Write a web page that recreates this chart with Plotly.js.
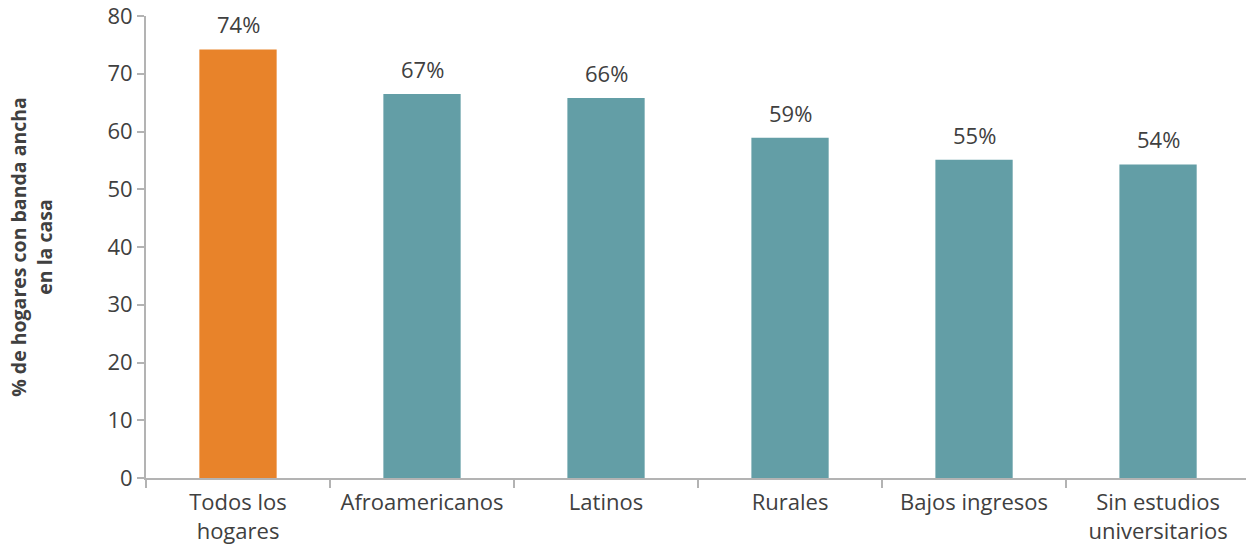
<!DOCTYPE html>
<html>
<head>
<meta charset="utf-8">
<script src="https://cdn.plot.ly/plotly-3.0.1.min.js"></script>
<style>html,body{margin:0;padding:0;background:#fff;}#chart{width:1246px;height:548px;}</style>
</head>
<body>
<div id="chart"></div>
<script>
const categories = ["Todos los<br>hogares", "Afroamericanos", "Latinos", "Rurales", "Bajos ingresos", "Sin estudios<br>universitarios"];
const values = [74.2, 66.5, 65.8, 58.9, 55.1, 54.3];
const labels = ["74%", "67%", "66%", "59%", "55%", "54%"];
const colors = ["#E8832A", "#639EA6", "#639EA6", "#639EA6", "#639EA6", "#639EA6"];
const yTicks = [0, 10, 20, 30, 40, 50, 60, 70, 80];

const font = "'Open Sans', sans-serif";
const textColor = "#404040";

const trace = {
  type: "bar",
  x: categories,
  y: values,
  marker: {color: colors},
  hoverinfo: "skip",
  cliponaxis: false
};

const annotations = categories.map((c, i) => ({
  x: c, y: values[i], text: labels[i], showarrow: false,
  yanchor: "bottom", yshift: 8,
  font: {family: font, size: 22, color: textColor}
}));

const layout = {
  width: 1246, height: 548,
  margin: {l: 146, r: 0, t: 16, b: 70},
  paper_bgcolor: "#fff", plot_bgcolor: "#fff",
  bargap: 0.58,
  showlegend: false,
  font: {family: font, color: textColor},
  xaxis: {
    type: "category",
    range: [-0.5, 5.478],
    showgrid: false, zeroline: false,
    showline: true, linecolor: "#b3b3b3", linewidth: 2,
    ticks: "outside", tickson: "boundaries", ticklen: 8, tickcolor: "#b3b3b3", tickwidth: 2,
    ticklabelstandoff: 4,
    ticklabeloverflow: "allow",
    tickfont: {family: font, size: 22, color: textColor},
    fixedrange: true
  },
  yaxis: {
    range: [0, 80],
    tickvals: yTicks,
    ticktext: yTicks.map(String),
    showgrid: false, zeroline: false,
    showline: true, linecolor: "#b3b3b3", linewidth: 2,
    ticks: "outside", ticklen: 7, tickcolor: "#b3b3b3", tickwidth: 2,
    ticklabeloverflow: "allow",
    tickfont: {family: font, size: 22, color: textColor},
    title: {
      text: "<b>% de hogares con banda ancha<br>en la casa</b>",
      font: {family: font, size: 19.5, color: textColor},
      standoff: 50
    },
    fixedrange: true
  },
  annotations: annotations
};

Plotly.newPlot("chart", [trace], layout, {displayModeBar: false, staticPlot: true});
</script>
</body>
</html>
